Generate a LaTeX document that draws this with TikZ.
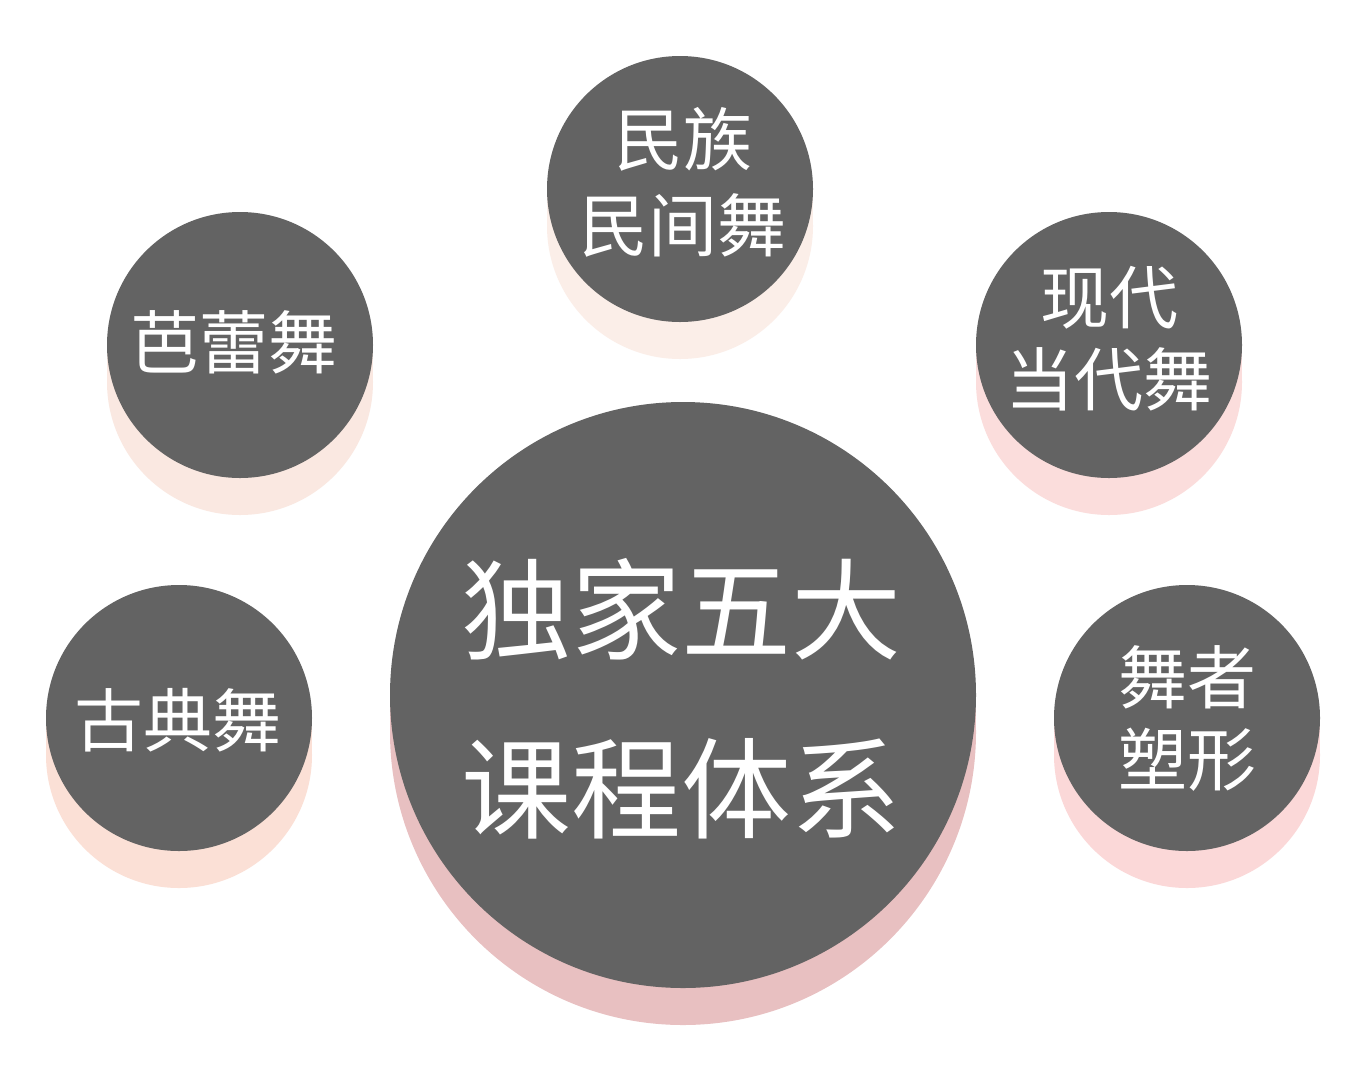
\documentclass[tikz,border=0pt]{standalone}
\usepackage{fontspec}
\newfontfamily\cjk{Noto Sans CJK SC}
\definecolor{diskgray}{RGB}{99,99,99}
\definecolor{shA}{RGB}{251,238,232}
\definecolor{shB}{RGB}{250,232,225}
\definecolor{shC}{RGB}{251,224,214}
\definecolor{shD}{RGB}{251,221,220}
\definecolor{shE}{RGB}{251,216,216}
\definecolor{shBig}{RGB}{232,192,193}
\newcommand\cylshadow[4]{%
  \fill[#4] (#1-#3,#2) rectangle (#1+#3,#2+37);
  \fill[#4] (#1,#2+37) circle[radius=#3];}
\tikzset{
  disk/.style={circle, fill=diskgray, draw=none, inner sep=0pt, minimum size=266pt},
  bigdisk/.style={circle, fill=diskgray, draw=none, inner sep=0pt, minimum size=586pt},
  smalltext/.style={text=white, align=center, inner sep=0pt, font=\cjk\fontsize{69pt}{84pt}\selectfont},
  bigtext/.style={text=white, align=center, inner sep=0pt, font=\cjk\fontsize{110pt}{179pt}\selectfont}
}
\begin{document}
\begin{tikzpicture}[x=1pt,y=-1pt]
\useasboundingbox (0,0) rectangle (1360,1072);
\fill[white] (0,0) rectangle (1360,1072);
% shadows
\cylshadow{680}{189}{133}{shA}
\cylshadow{240}{345}{133}{shB}
\cylshadow{1109}{345}{133}{shD}
\cylshadow{179}{718}{133}{shC}
\cylshadow{1187}{718}{133}{shE}
\cylshadow{683}{695}{293}{shBig}
% disks
\node[disk] (folk) at (680,189) {};
\node[disk] (ballet) at (240,345) {};
\node[disk] (modern) at (1109,345) {};
\node[disk] (classic) at (179,718) {};
\node[disk] (shape) at (1187,718) {};
\node[bigdisk] (core) at (683,695) {};
% texts
\node[smalltext, font=\cjk\fontsize{69pt}{86pt}\selectfont] (folkt) at (683,182) {民族\\民间舞};
\node[smalltext] (ballett) at (234,342) {芭蕾舞};
\node[smalltext, font=\cjk\fontsize{69pt}{82pt}\selectfont] (modernt) at (1109,339) {现代\\当代舞};
\node[smalltext] (classict) at (178,720) {古典舞};
\node[smalltext, font=\cjk\fontsize{69pt}{82pt}\selectfont] (shapet) at (1187,718) {舞者\\塑形};
\node[bigtext] (coret) at (681,699) {独家五大\\课程体系};
\end{tikzpicture}
\end{document}
